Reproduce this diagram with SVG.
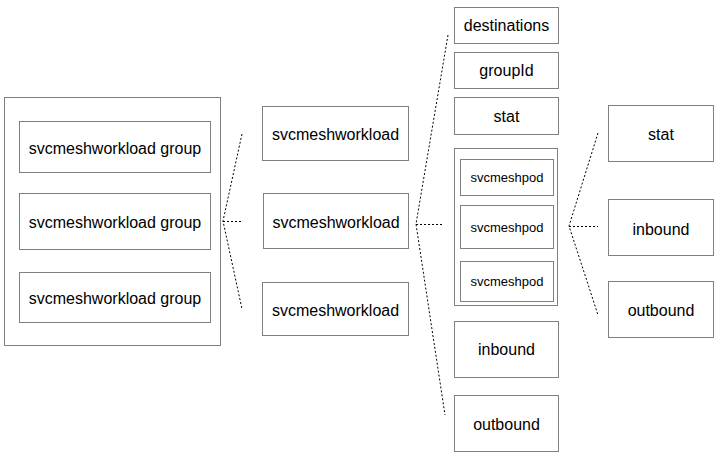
<svg xmlns="http://www.w3.org/2000/svg" width="728" height="460" viewBox="0 0 728 460">
<style>
.box{fill:#fff;stroke:#808080;stroke-width:1}
.t{font-family:"Liberation Sans",Arial,sans-serif;font-size:16px;fill:#000;text-anchor:middle}
.s{font-size:13px}
.c{fill:none;stroke:#000;stroke-width:1;stroke-dasharray:2 2}
</style>
<rect width="728" height="460" fill="#fff"/>
<g id="groups">
<rect class="box" x="4.5" y="97.5" width="216" height="248"/>
</g>
<g id="g1"><rect class="box" x="19.5" y="121.5" width="191" height="51"/><text class="t" x="115" y="154">svcmeshworkload group</text></g>
<g id="g2"><rect class="box" x="19.5" y="193.5" width="191" height="56"/><text class="t" x="115" y="228">svcmeshworkload group</text></g>
<g id="g3"><rect class="box" x="19.5" y="272.5" width="191" height="50"/><text class="t" x="115" y="304">svcmeshworkload group</text></g>
<g id="w1"><rect class="box" x="262.5" y="106.5" width="146" height="54"/><text class="t" x="335.5" y="140">svcmeshworkload</text></g>
<g id="w2"><rect class="box" x="263.5" y="193.5" width="145" height="55"/><text class="t" x="336" y="228">svcmeshworkload</text></g>
<g id="w3"><rect class="box" x="262.5" y="282.5" width="146" height="53"/><text class="t" x="335.5" y="316">svcmeshworkload</text></g>
<g id="destinations"><rect class="box" x="454.5" y="7.5" width="104" height="36"/><text class="t" x="506.5" y="31">destinations</text></g>
<g id="groupId"><rect class="box" x="454.5" y="52.5" width="104" height="36"/><text class="t" x="506.5" y="76">groupId</text></g>
<g id="stat1"><rect class="box" x="454.5" y="97.5" width="104" height="37"/><text class="t" x="506.5" y="122">stat</text></g>
<g id="pods"><rect class="box" x="454.5" y="148.5" width="103" height="157"/></g>
<g id="p1"><rect class="box" x="460.5" y="159.5" width="93" height="36"/><text class="t s" x="507" y="182">svcmeshpod</text></g>
<g id="p2"><rect class="box" x="460.5" y="205.5" width="93" height="43"/><text class="t s" x="507" y="232">svcmeshpod</text></g>
<g id="p3"><rect class="box" x="460.5" y="261.5" width="93" height="40"/><text class="t s" x="507" y="286">svcmeshpod</text></g>
<g id="inbound1"><rect class="box" x="454.5" y="321.5" width="104" height="56"/><text class="t" x="506.5" y="355">inbound</text></g>
<g id="outbound1"><rect class="box" x="454.5" y="395.5" width="104" height="56"/><text class="t" x="506.5" y="430">outbound</text></g>
<g id="stat2"><rect class="box" x="608.5" y="105.5" width="105" height="56"/><text class="t" x="661" y="140">stat</text></g>
<g id="inbound2"><rect class="box" x="608.5" y="199.5" width="105" height="56"/><text class="t" x="661" y="235">inbound</text></g>
<g id="outbound2"><rect class="box" x="608.5" y="281.5" width="105" height="56"/><text class="t" x="661" y="316">outbound</text></g>
<g id="connectors">
<path class="c" d="M242 134 L223 221 L242 309 M223 221.5 H242"/>
<path class="c" d="M448 35 L416 224 L445 415 M416 224.5 H444"/>
<path class="c" d="M598 133 L569 226 L598 315 M569 226.5 H598"/>
</g>
</svg>
